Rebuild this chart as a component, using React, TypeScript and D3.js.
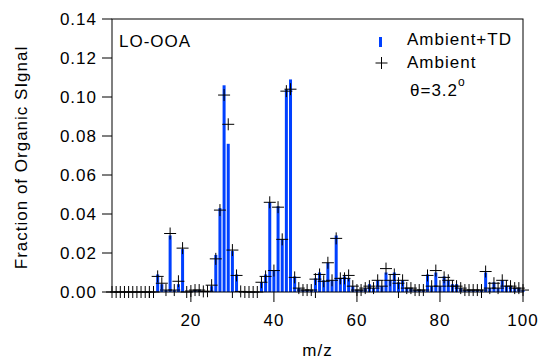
import React from "react";
import * as d3 from "d3";

const mz: number[] = d3.range(1, 101);
// Ambient+TD (bars), m/z 1..100
const ambientTD: number[] = [
  0, 0, 0, 0, 0, 0, 0, 0, 0, 0,
  0, 0.009, 0.004, 0.001, 0.029, 0.001, 0.004, 0.022, 0, 0.0005,
  0.001, 0.001, 0.0003, 0.0005, 0.003, 0.019, 0.043, 0.106, 0.076, 0.021,
  0.009, 0.0005, 0, 0, 0, 0, 0.005, 0.009, 0.046, 0.011,
  0.044, 0.027, 0.104, 0.109, 0.008, 0.002, 0.001, 0.001, 0.001, 0.007,
  0.010, 0.006, 0.015, 0.006, 0.029, 0.007, 0.008, 0.007, 0.003, 0.001,
  0.001, 0.002, 0.004, 0.002, 0.006, 0.003, 0.010, 0.006, 0.010, 0.005,
  0.006, 0.002, 0.002, 0.001, 0.001, 0.001, 0.009, 0.003, 0.010, 0.003,
  0.008, 0.006, 0.004, 0.004, 0.002, 0.001, 0.001, 0.001, 0.001, 0.001,
  0.010, 0.002, 0.005, 0.002, 0.006, 0.003, 0.003, 0.002, 0.002, 0.001,
];
// Ambient (markers), m/z 1..100
const ambient: number[] = [
  0, 0, 0, 0, 0, 0, 0, 0, 0, 0,
  0, 0.008, 0.0045, 0.001, 0.030, 0.001, 0.0055, 0.0225, 0, 0.0005,
  0.001, 0.001, 0.0003, 0.0004, 0.0035, 0.017, 0.042, 0.101, 0.086, 0.0215,
  0.0085, 0.0003, 0, 0, 0, 0, 0.005, 0.008, 0.046, 0.011,
  0.0435, 0.027, 0.103, 0.104, 0.0075, 0.002, 0.001, 0.001, 0.001, 0.0066,
  0.009, 0.0055, 0.015, 0.006, 0.0275, 0.007, 0.007, 0.0085, 0.003, 0.001,
  0.001, 0.002, 0.003, 0.002, 0.006, 0.003, 0.012, 0.006, 0.009, 0.0045,
  0.006, 0.002, 0.002, 0.001, 0.001, 0.001, 0.0085, 0.003, 0.011, 0.003,
  0.0075, 0.006, 0.003, 0.003, 0.002, 0.001, 0.001, 0.001, 0.001, 0.001,
  0.0105, 0.002, 0.0045, 0.002, 0.006, 0.003, 0.003, 0.002, 0.002, 0.001,
];
const yTicks: number[] = [0, 0.02, 0.04, 0.06, 0.08, 0.1, 0.12, 0.14];
const xMajorTicks: number[] = [20, 40, 60, 80, 100];
const xMinorTicks: number[] = [10, 30, 50, 70, 90];

const W = 541;
const H = 362;
const left = 112;
const right = 523;
const top = 19;
const bottom = 292;

const font = "'Liberation Sans', Arial, sans-serif";
const fs = 17;
const ls = 1;
const blue = "#0040ff";

export default function App() {
  const x = d3.scaleLinear().domain([1, 100]).range([left, right]);
  const y = d3.scaleLinear().domain([0, 0.14]).range([bottom, top]);
  const m = 6;
  const textStyle = { fontFamily: font, fontSize: fs, letterSpacing: ls, fill: "#000" } as const;
  return (
    <svg width={W} height={H} style={{ position: "absolute", left: 0, top: 0, background: "#fff" }}>
      {/* bars */}
      {mz.map((d, i) =>
        ambientTD[i] > 0 ? (
          <rect key={"b" + d} x={x(d) - 1.5} width={3} y={y(ambientTD[i])} height={bottom - y(ambientTD[i])} fill={blue} />
        ) : null
      )}
      {/* markers */}
      {mz.map((d, i) => (
        <path
          key={"p" + d}
          d={`M${x(d) - m},${y(ambient[i])}H${x(d) + m}M${x(d)},${y(ambient[i]) - m}V${y(ambient[i]) + m}`}
          stroke="#000"
          strokeWidth={1}
          fill="none"
        />
      ))}
      {/* frame */}
      <rect x={left} y={top} width={right - left} height={bottom - top} fill="none" stroke="#000" strokeWidth={1} />
      {/* y ticks */}
      {yTicks.map((t) => (
        <g key={"y" + t}>
          <line x1={left - 10} x2={left} y1={y(t)} y2={y(t)} stroke="#000" />
          <text x={left - 15} y={y(t)} dy="0.36em" textAnchor="end" style={textStyle}>
            {d3.format(".2f")(t)}
          </text>
        </g>
      ))}
      {/* x ticks */}
      {xMajorTicks.map((t) => (
        <g key={"x" + t}>
          <line x1={x(t)} x2={x(t)} y1={bottom} y2={bottom + 10} stroke="#000" />
          <text x={x(t)} y={bottom + 34} textAnchor="middle" style={textStyle}>
            {t}
          </text>
        </g>
      ))}
      {xMinorTicks.map((t) => (
        <line key={"xm" + t} x1={x(t)} x2={x(t)} y1={bottom} y2={bottom + 6} stroke="#000" />
      ))}
      {/* axis titles */}
      <text x={(left + right) / 2} y={356} textAnchor="middle" style={textStyle}>
        m/z
      </text>
      <text
        transform={`translate(27,${(top + bottom) / 2 + 2}) rotate(-90)`}
        textAnchor="middle"
        style={textStyle}
      >
        Fraction of Organic SIgnal
      </text>
      {/* labels */}
      <text x={119} y={47} style={textStyle}>LO-OOA</text>
      <rect x={379} y={37} width={3} height={10} fill={blue} />
      <text x={407} y={45} style={textStyle}>Ambient+TD</text>
      <path d={`M${381.5 - 6},63H${381.5 + 6}M381.5,57V69`} stroke="#000" />
      <text x={407} y={68} style={textStyle}>Ambient</text>
      <text x={410} y={96} style={textStyle}>
        θ=3.2
        <tspan dy={-10} fontSize={12}>o</tspan>
      </text>
    </svg>
  );
}
